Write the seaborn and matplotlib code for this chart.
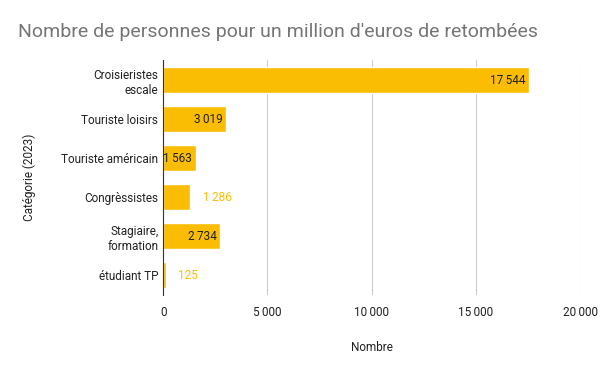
import matplotlib
matplotlib.use("Agg")
import matplotlib.pyplot as plt
import seaborn as sns
import pandas as pd
from matplotlib.ticker import FuncFormatter

# data
categories = ["Croisieristes\nescale", "Touriste loisirs", "Touriste américain",
              "Congrèssistes", "Stagiaire,\nformation", "étudiant TP"]
values = [17544, 3019, 1563, 1286, 2734, 125]
x_ticks = [0, 5000, 10000, 15000, 20000]

df = pd.DataFrame({"cat": categories, "val": values})

sns.set_style("white")
plt.rcParams["font.family"] = ["Roboto", "DejaVu Sans"]

bar_color = "#fbbc04"
fig = plt.figure(figsize=(6, 3.71), dpi=100)
ax = fig.add_axes([0.272, 0.205, 0.695, 0.632])

sns.barplot(data=df, x="val", y="cat", color=bar_color, saturation=1,
            width=0.67, ax=ax, orient="h")


def fmt(v):
    return f"{v:,.0f}".replace(",", "\u2009")


# value labels: inside the bar when it is wide enough, else outside in bar colour
for i, v in enumerate(values):
    if v >= 1500:
        ax.annotate(fmt(v), (v, i), xytext=(-2.5, 0), textcoords="offset points",
                    ha="right", va="center", fontsize=8.5, color="#202124")
    else:
        ax.annotate(fmt(v), (v, i), xytext=(9, 0), textcoords="offset points",
                    ha="left", va="center", fontsize=8.5, color=bar_color)

ax.set_xlim(0, 20000)
ax.set_xticks(x_ticks)
ax.xaxis.set_major_formatter(FuncFormatter(lambda v, p: fmt(v)))
ax.grid(axis="x", color="#cccccc", linewidth=0.8)
ax.set_axisbelow(True)
for s in ["top", "right", "bottom"]:
    ax.spines[s].set_visible(False)
ax.spines["left"].set_color("#333333")
ax.tick_params(axis="both", length=0, labelsize=8.5, colors="#222222")
ax.tick_params(axis="x", pad=8)

ax.set_xlabel("Nombre", fontsize=8.5, color="#222222", labelpad=16)
ax.set_ylabel("Catégorie (2023)", fontsize=8.5, color="#222222", labelpad=18)

fig.text(0.03, 0.915, "Nombre de personnes pour un million d'euros de retombées",
         fontsize=14, color="#757575", ha="left", va="center")

fig.savefig("out.png", dpi=100)
